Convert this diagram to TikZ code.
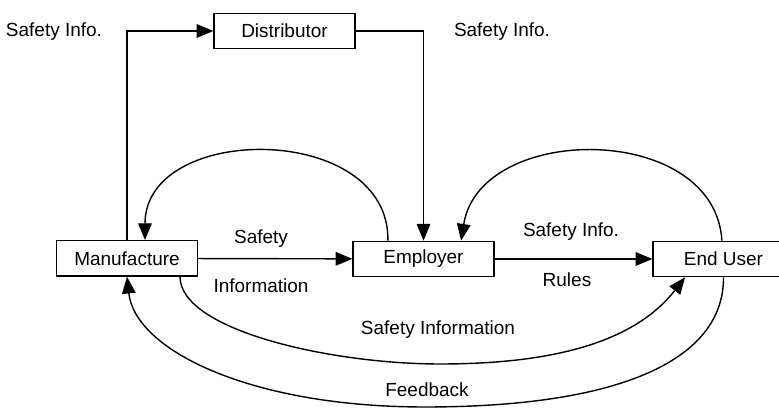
\documentclass[tikz,border=0pt]{standalone}
\usepackage{fontspec}
\setmainfont{Liberation Sans}
\usetikzlibrary{arrows.meta}

\begin{document}
\begin{tikzpicture}[
    bnode/.style={rectangle, draw, line width=1pt, minimum width=3.52cm,
                  minimum height=0.88cm, inner sep=0pt, font=\fontsize{13.5}{16}\selectfont},
    arr/.style={-{Triangle[length=4.2mm,width=3.4mm]}, line width=1pt},
    lbl/.style={font=\fontsize{13.5}{16}\selectfont, inner sep=0pt},
  ]
  \useasboundingbox (0,0) rectangle (19.475,10.25);
  \clip (0,0) rectangle (19.475,10.25);

  % Top: Distributor
  \node[bnode] (dist) at (7.1125, 9.475) {Distributor};
  \node[lbl] (lsil) at (1.35, 9.45) {Safety Info.};
  \node[lbl] (lsir) at (12.55, 9.45) {Safety Info.};

  % Middle row
  \node[bnode] (man) at (3.175, 3.79) {Manufacture};
  \node[bnode] (emp) at (10.5875, 3.775) {Employer};
  \node[bnode] (eu) at (18.0875, 3.775) {End User};

  % Labels
  \node[lbl] (lsafety) at (6.525, 4.275) {Safety};
  \node[lbl] (linfo) at (6.525, 3.1) {Information};
  \node[lbl] (lsie) at (14.275, 4.45) {Safety Info.};
  \node[lbl] (lrules) at (14.175, 3.25) {Rules};
  \node[lbl] (lsinfo) at (10.95, 2.0) {Safety Information};
  \node[lbl] (lfeed) at (10.675, 0.5) {Feedback};

  % Edges
  \draw[arr] (man.north) |- (dist.west);
  \draw[arr] (dist.east) -| (emp.north);
  \draw[arr] (man) -- (emp);
  \draw[arr] (emp) -- (eu);

  % Loops above
  \draw[arr] ([xshift=-0.89cm]emp.north) .. controls (9.75,7.2) and (3.625,7.2) .. ([xshift=0.45cm]man.north);
  \draw[arr] ([xshift=-0.04cm]eu.north) .. controls (17.875,7.2) and (12.0,7.2) .. ([xshift=0.94cm]emp.north);

  % Curves below
  \draw[arr] ([xshift=1.325cm]man.south) .. controls (4.5,2.0) and (8.25,1.15) .. (11.0,1.15)
    .. controls (14.25,1.15) and (16.0,1.875) .. ([xshift=-0.96cm]eu.south);
  \draw[arr] (eu.south) .. controls (18.1,1.25) and (15.5,0.075) .. (10.625,0.075)
    .. controls (6.25,0.075) and (3.375,1.5) .. (man.south);

\end{tikzpicture}
\end{document}
